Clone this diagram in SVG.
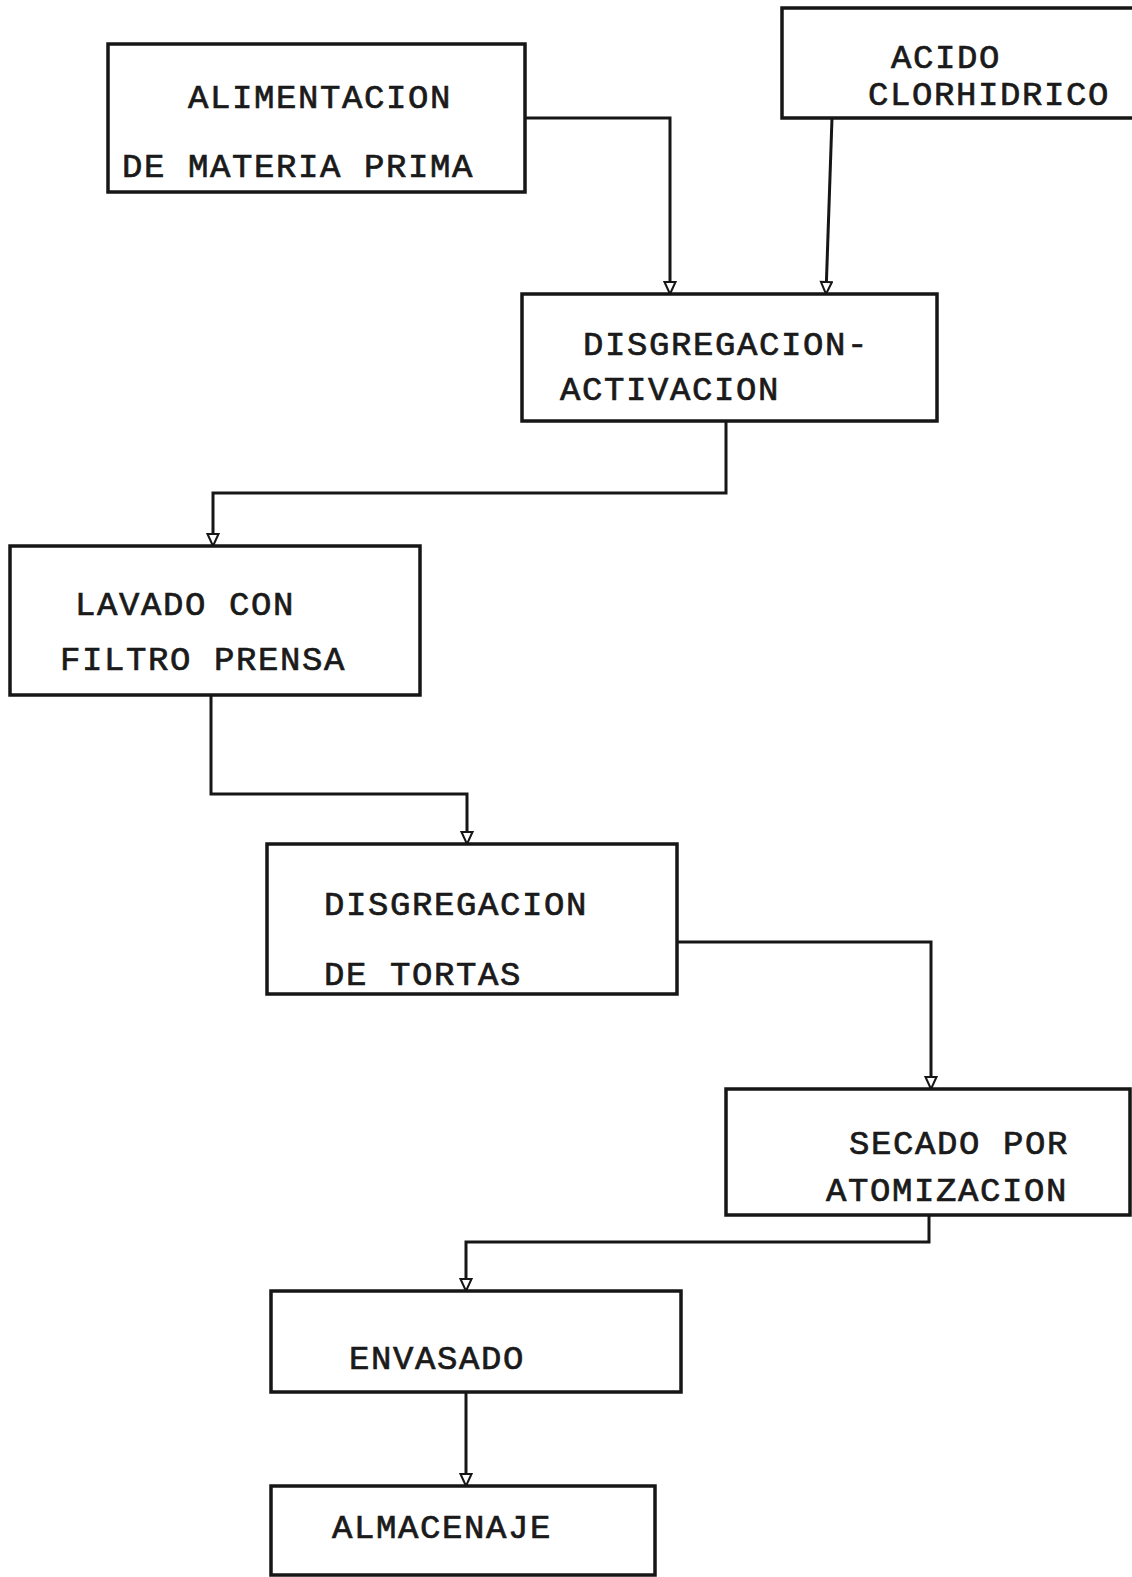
<svg xmlns="http://www.w3.org/2000/svg" width="1132" height="1577" viewBox="0 0 1132 1577">
  <style>
    .box { fill: #ffffff; stroke: #161616; stroke-width: 3.5; }
    .lbl { font-family: "Liberation Mono", "DejaVu Sans Mono", monospace; font-size: 34px; letter-spacing: 1.6px; fill: #1a1a1a; stroke: #1a1a1a; stroke-width: 0.7; }
    .wire { fill: none; stroke: #161616; stroke-width: 3; stroke-linejoin: miter; }
  </style>
  <defs>
    <marker id="tri" viewBox="-1 -7 15 14" refX="13" refY="0" markerWidth="15" markerHeight="14" markerUnits="userSpaceOnUse" orient="auto">
      <path d="M1,-5.5 L13,0 L1,5.5 Z" fill="#ffffff" stroke="#161616" stroke-width="2"/>
    </marker>
  </defs>
  <rect width="1132" height="1577" fill="#ffffff"/>

  <!-- process connectors -->
  <g id="connectors">
    <path class="wire" d="M525,118 H670 V294" marker-end="url(#tri)"/>
    <path class="wire" d="M832,118 L826,294" marker-end="url(#tri)"/>
    <path class="wire" d="M726,421 V493 H213 V546" marker-end="url(#tri)"/>
    <path class="wire" d="M211,695 V794 H467 V844" marker-end="url(#tri)"/>
    <path class="wire" d="M677,942 H931 V1089" marker-end="url(#tri)"/>
    <path class="wire" d="M929,1215 V1242 H466 V1291" marker-end="url(#tri)"/>
    <path class="wire" d="M466,1392 V1486" marker-end="url(#tri)"/>
  </g>

  <g id="alimentacion">
    <rect class="box" x="108" y="44" width="417" height="148"/>
    <text class="lbl" x="188" y="108">ALIMENTACION</text>
    <text class="lbl" x="122" y="177">DE MATERIA PRIMA</text>
  </g>

  <g id="acido">
    <rect class="box" x="782" y="8" width="360" height="110"/>
    <text class="lbl" x="891" y="68">ACIDO</text>
    <text class="lbl" x="868" y="105">CLORHIDRICO</text>
  </g>

  <g id="disgregacion-activacion">
    <rect class="box" x="522" y="294" width="415" height="127"/>
    <text class="lbl" x="583" y="355">DISGREGACION-</text>
    <text class="lbl" x="560" y="400">ACTIVACION</text>
  </g>

  <g id="lavado">
    <rect class="box" x="10" y="546" width="410" height="149"/>
    <text class="lbl" x="75" y="615">LAVADO CON</text>
    <text class="lbl" x="60" y="670">FILTRO PRENSA</text>
  </g>

  <g id="disgregacion-tortas">
    <rect class="box" x="267" y="844" width="410" height="150"/>
    <text class="lbl" x="324" y="915">DISGREGACION</text>
    <text class="lbl" x="324" y="985">DE TORTAS</text>
  </g>

  <g id="secado">
    <rect class="box" x="726" y="1089" width="404" height="126"/>
    <text class="lbl" x="849" y="1154">SECADO POR</text>
    <text class="lbl" x="826" y="1201">ATOMIZACION</text>
  </g>

  <g id="envasado">
    <rect class="box" x="271" y="1291" width="410" height="101"/>
    <text class="lbl" x="349" y="1369">ENVASADO</text>
  </g>

  <g id="almacenaje">
    <rect class="box" x="271" y="1486" width="384" height="89"/>
    <text class="lbl" x="332" y="1538">ALMACENAJE</text>
  </g>
</svg>
